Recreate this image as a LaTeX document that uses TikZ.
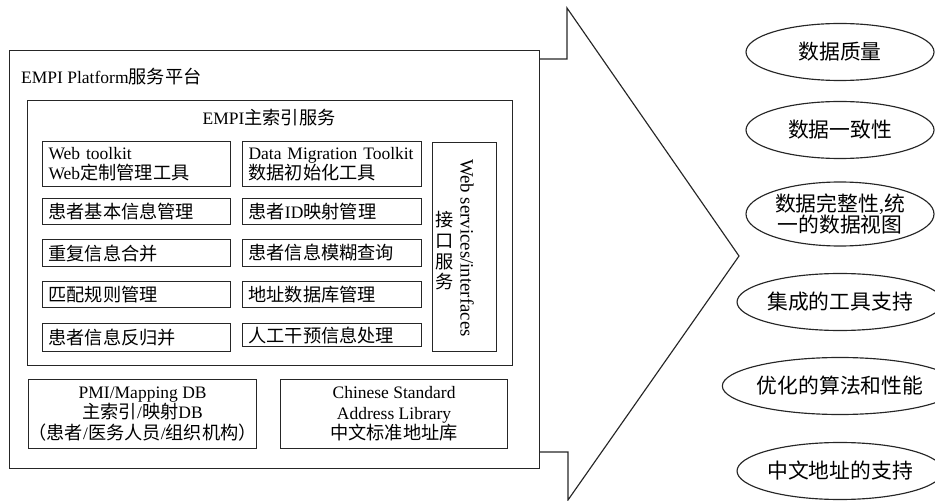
\documentclass[tikz,border=0pt]{standalone}
\usepackage{fontspec}
\setmainfont{Liberation Serif}
\newfontfamily\cjk[Scale=1.04]{Noto Sans CJK SC}
\newcommand\zh[1]{{\cjk #1}}
\usetikzlibrary{shapes.geometric}
\tikzset{
  frame/.style={draw=black!85, line width=1.15bp},
  panel/.style={frame, rectangle, anchor=north west, inner sep=0pt},
  cell/.style={frame, rectangle, anchor=north west, inner xsep=6bp, inner ysep=0pt,
    align=left, font=\fontsize{17.5bp}{19.5bp}\selectfont},
  dbbox/.style={frame, rectangle, anchor=north west, inner sep=0pt,
    align=center, font=\fontsize{17.5bp}{20.5bp}\selectfont},
  label/.style={inner sep=0pt, font=\fontsize{17.5bp}{19.5bp}\selectfont},
  oval/.style={frame, ellipse, minimum width=188bp, minimum height=57bp, inner sep=0pt,
    align=center, font=\fontsize{20bp}{20.5bp}\selectfont},
}
\begin{document}
\begin{tikzpicture}[x=1bp,y=-1bp]
\useasboundingbox (0,0) rectangle (935,501);
% platform
\node[panel, minimum width=530bp, minimum height=418bp] (platform) at (9,50) {};
\node[label, anchor=west] (ptitle) at (21,77) {EMPI Platform\zh{服务平台}};
% EMPI service
\node[panel, minimum width=485bp, minimum height=265bp] (empi) at (27,100) {};
\node[label] (etitle) at (269,118) {EMPI\zh{主索引服务}};
% left column
\node[cell, text width=176bp, minimum height=45bp] (wt) at (42,141) {Web toolkit\\Web\zh{定制管理工具}};
\node[cell, text width=176bp, minimum height=26bp] (l2) at (42,198) {\zh{患者基本信息管理}};
\node[cell, text width=176bp, minimum height=27bp] (l3) at (42,239) {\zh{重复信息合并}};
\node[cell, text width=176bp, minimum height=26bp] (l4) at (42,281) {\zh{匹配规则管理}};
\node[cell, text width=176bp, minimum height=28bp] (l5) at (42,323) {\zh{患者信息反归并}};
% right column
\node[cell, text width=167bp, minimum height=45bp] (dm) at (242,141) {Data Migration Toolkit\\\zh{数据初始化工具}};
\node[cell, text width=167bp, minimum height=26bp] (r2) at (242,198) {\zh{患者}ID\zh{映射管理}};
\node[cell, text width=167bp, minimum height=27bp] (r3) at (242,239) {\zh{患者信息模糊查询}};
\node[cell, text width=167bp, minimum height=26bp] (r4) at (242,281) {\zh{地址数据库管理}};
\node[cell, text width=167bp, minimum height=23bp] (r5) at (242,323) {\zh{人工干预信息处理}};
% web services
\node[panel, minimum width=64bp, minimum height=209bp] (ws) at (432,142) {};
\node[label, rotate=-90, font=\fontsize{18.8bp}{20bp}\selectfont] (wsen) at (467,248) {Web services/interfaces};
\node[label, align=center, font=\fontsize{17.5bp}{20.7bp}\selectfont] (wszh) at (445,251) {\zh{接}\\\zh{口}\\\zh{服}\\\zh{务}};
% databases
\node[dbbox, minimum width=226bp, minimum height=69bp] (pmi) at (28,379) {PMI/Mapping DB\\\zh{主索引}/\zh{映射}DB\\\zh{（患者}/\zh{医务人员}/\zh{组织机构）}};
\node[dbbox, minimum width=227bp, minimum height=69bp] (addr) at (280,379) {Chinese Standard\\Address Library\\\zh{中文标准地址库}};
% big arrow
\coordinate (a1) at (539,59);
\coordinate (a2) at (567,59);
\coordinate (a3) at (567,8);
\coordinate (tip) at (739,256);
\coordinate (a5) at (568,500);
\coordinate (a6) at (568,452);
\coordinate (a7) at (539,452);
\draw[frame, line join=miter] (a1) -- (a2) -- (a3) -- (tip) -- (a5) -- (a6) -- (a7);
% benefits
\node[oval] (e1) at (840,52) {\zh{数据质量}};
\node[oval] (e2) at (840,130) {\zh{数据一致性}};
\node[oval, minimum height=64bp] (e3) at (840,214) {\zh{数据完整性},\zh{统}\\\zh{一的数据视图}};
\node[oval] (e4) at (840,302) {\zh{集成的工具支持}};
\node[oval] (e5) at (840,386) {\zh{优化的算法和性能}};
\node[oval] (e6) at (840,471) {\zh{中文地址的支持}};
\end{tikzpicture}
\end{document}
